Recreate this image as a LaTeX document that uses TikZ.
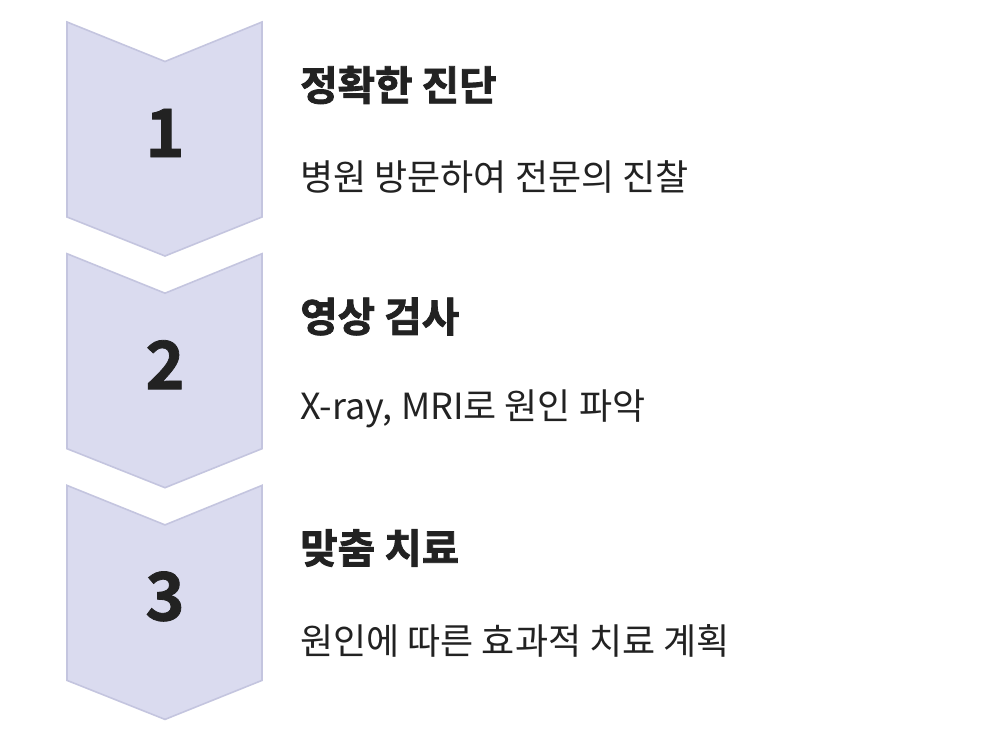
\documentclass[tikz,border=0pt]{standalone}
\usepackage{fontspec}
\setmainfont{Noto Sans CJK KR}
\newfontfamily\krheavy[FakeBold=1.2]{Noto Sans CJK KR Bold}
\newfontfamily\krblack[FakeBold=2]{Noto Sans CJK KR Bold}
\definecolor{chevfill}{HTML}{DADBEF}
\definecolor{chevline}{HTML}{C4C5DF}
\definecolor{ink}{HTML}{222222}
\begin{document}
\begin{tikzpicture}[x=0.75pt,y=-0.75pt,
  chev/.style={fill=chevfill,draw=chevline,line width=1.2pt,line join=miter},
  num/.style={font=\krheavy\fontsize{50}{60}\selectfont,text=ink,inner sep=0pt},
  ttl/.style={font=\krblack\fontsize{30.5}{34}\selectfont,text=ink,anchor=west,inner sep=0pt},
  sub/.style={font=\fontsize{27}{32}\selectfont,text=ink,anchor=west,inner sep=0pt}]
\useasboundingbox[fill=white] (0,0) rectangle (1008,738);
\foreach \i/\n in {0/1,1/2,2/3}{
  \pgfmathsetmacro{\dy}{\i*231.7}
  \begin{scope}[yshift=-\dy*0.75pt]
    \draw[chev] (67,22) -- (165,61.5) -- (262,22) -- (262,217) -- (165,256) -- (67,217) -- cycle;
    \node[num] (n\n) at (165,133) {\n};
  \end{scope}
}
\node[ttl] (t1) at (300,85) {정확한 진단};
\node[sub] (s1) at (300,177) {병원 방문하여 전문의 진찰};
\node[ttl] (t2) at (300,316.5) {영상 검사};
\node[sub] (s2) at (300,409) {X-ray, MRI로 원인 파악};
\node[ttl] (t3) at (300,548) {맞춤 치료};
\node[sub] (s3) at (300,641) {원인에 따른 효과적 치료 계획};
\end{tikzpicture}
\end{document}
